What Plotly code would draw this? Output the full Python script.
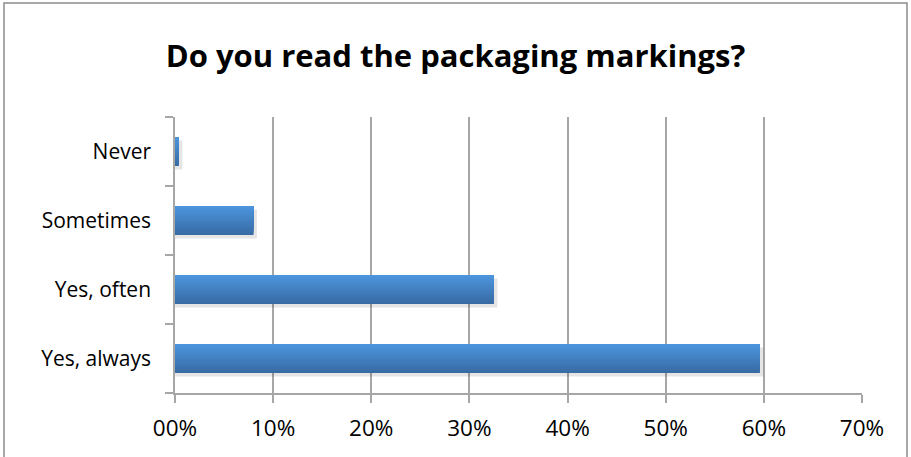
import plotly.graph_objects as go

# Survey answers (bottom to top) and share of respondents, in percent
answers = ["Yes, always", "Yes, often", "Sometimes", "Never"]
shares = [59.6, 32.5, 8.0, 0.4]

tick_values = [0, 10, 20, 30, 40, 50, 60, 70]
tick_labels = ["00%", "10%", "20%", "30%", "40%", "50%", "60%", "70%"]

title_text = "Do you read the packaging markings?"

BAR_W = 0.42          # bar thickness in category units
N_STRIPES = 14        # layered slices used to fake a vertical gradient
TOP_RGB = (76, 148, 220)
BOTTOM_RGB = (56, 108, 166)

fig = go.Figure()

# soft drop shadow beneath each bar
fig.add_trace(go.Bar(
    y=answers, x=[v + 0.35 for v in shares], orientation="h",
    width=BAR_W, offset=-BAR_W / 2 - 0.05,
    marker=dict(color="rgba(0,0,0,0.10)", line=dict(width=0)),
    hoverinfo="skip", showlegend=False,
))

# gradient: each layer starts a bit higher and always reaches the bar top,
# so later (lighter) layers cover the upper part of earlier (darker) ones
for i in range(N_STRIPES):
    t = i / (N_STRIPES - 1)  # 0 = bottom, 1 = top
    r, g, b = (round(BOTTOM_RGB[k] + (TOP_RGB[k] - BOTTOM_RGB[k]) * t) for k in range(3))
    start = -BAR_W / 2 + i * BAR_W / N_STRIPES
    fig.add_trace(go.Bar(
        y=answers, x=shares, orientation="h",
        width=BAR_W / 2 - start,
        offset=start,
        marker=dict(color=f"rgb({r},{g},{b})", line=dict(width=0)),
        hovertemplate="%{y}: %{x}%<extra></extra>", showlegend=False,
    ))

grid_col = "#a6a6a6"

fig.update_layout(
    width=911, height=457,
    margin=dict(l=175, r=49, t=117, b=64),
    paper_bgcolor="white", plot_bgcolor="white",
    barmode="overlay",
    font=dict(family="'Open Sans', Lato, sans-serif", color="black", size=21),
    title=dict(text=f"<b>{title_text}</b>", x=0.5, xanchor="center",
               y=0.877, yanchor="middle", yref="container",
               font=dict(size=31, color="black")),
    xaxis=dict(
        range=[0, 70], tickvals=tick_values, ticktext=tick_labels,
        tickfont=dict(size=22.5),
        showgrid=True, gridcolor=grid_col, gridwidth=1.5,
        showline=True, linecolor=grid_col, linewidth=1.5,
        ticks="outside", ticklen=8, tickcolor=grid_col, tickwidth=1.5,
        ticklabelstandoff=6, zeroline=False, fixedrange=True,
    ),
    yaxis=dict(
        type="category", categoryorder="array", categoryarray=answers,
        showgrid=False, showline=True, linecolor=grid_col, linewidth=1.5,
        ticks="outside", ticklen=8, tickcolor=grid_col, tickwidth=1.5,
        tickson="boundaries", ticklabelstandoff=18, fixedrange=True,
    ),
    shapes=[dict(
        type="rect", xref="paper", yref="paper",
        x0=-0.2489, x1=1.0655, y0=-0.25, y1=1.413,
        line=dict(color="#8c8c8c", width=1.5), fillcolor="rgba(0,0,0,0)",
        layer="below",
    )],
)

fig.write_html("out.html")
